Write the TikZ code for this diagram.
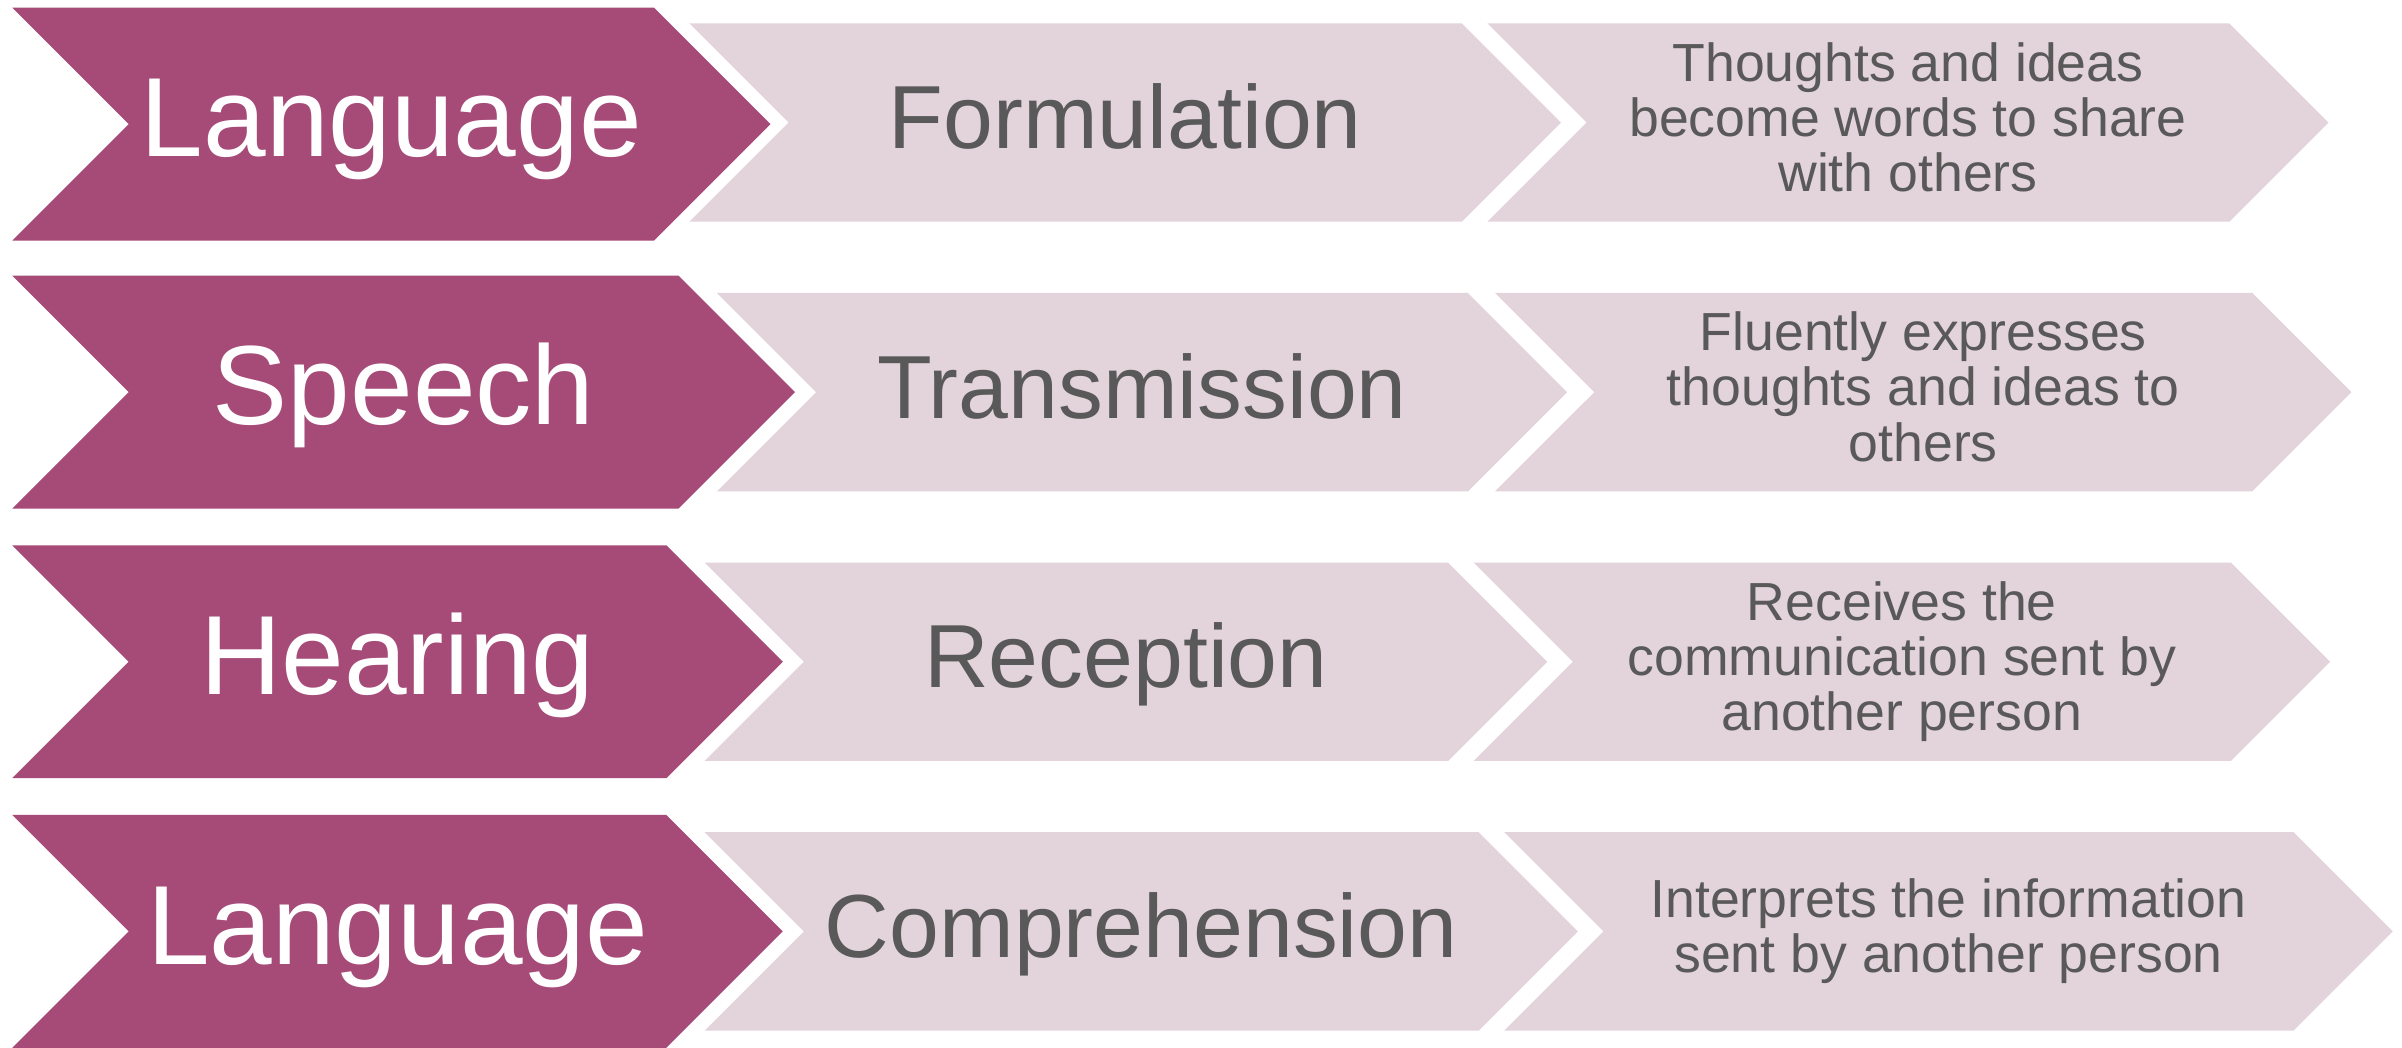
\documentclass[tikz,border=0pt]{standalone}
\usepackage{fontspec}
\setmainfont{Liberation Sans}
\usetikzlibrary{shapes.symbols}
\definecolor{plum}{HTML}{A64A78}
\definecolor{blush}{HTML}{E3D3DB}
\definecolor{slate}{HTML}{595959}
\newcommand\rowstrut{\rule[-.21em]{0pt}{1em}}

\begin{document}
\begin{tikzpicture}[x=1pt,y=-1pt,
		chevron/.style={signal, signal from=west, signal to=east, inner sep=0pt, outer sep=0pt,
			execute at begin node=\rowstrut, execute at end node=\rowstrut},
		skill/.style={chevron, fill=plum, text=white, minimum height=152pt, font=\fontsize{73.5}{80}\selectfont},
		process/.style={chevron, fill=blush, text=slate, minimum height=129.5pt, font=\fontsize{58.5}{64}\selectfont},
		effect/.style={chevron, fill=blush, text=slate, minimum height=129.5pt, align=center, font=\fontsize{35}{36}\selectfont}]
		\useasboundingbox (0,0) rectangle (1568,684);
		\node (lang1)[skill, minimum width=495pt] at (255.5,81) {Language};
		\node (form)[process, minimum width=569pt] at (734.5,80) {Formulation};
		\node (formtxt)[effect, minimum width=549pt] at (1245.5,80) {Thoughts and ideas\\become words to share\\with others};
		\node (speech)[skill, minimum width=511pt] at (263.5,256) {Speech};
		\node (trans)[process, minimum width=555pt] at (745.5,256) {Transmission};
		\node (transtxt)[effect, minimum width=559pt] at (1255.5,256) {Fluently expresses\\thoughts and ideas to\\others};
		\node (hear)[skill, minimum width=503pt] at (259.5,432) {Hearing};
		\node (recep)[process, minimum width=550pt] at (735,432) {Reception};
		\node (receptxt)[effect, minimum width=559pt] at (1241.5,432) {Receives the\\communication sent by\\another person};
		\node (lang2)[skill, minimum width=503pt] at (259.5,608) {Language};
		\node (comp)[process, minimum width=570pt] at (745,608) {Comprehension};
		\node (comptxt)[effect, minimum width=580pt] at (1272,608) {Interprets the information\\sent by another person};
	\end{tikzpicture}
\end{document}
